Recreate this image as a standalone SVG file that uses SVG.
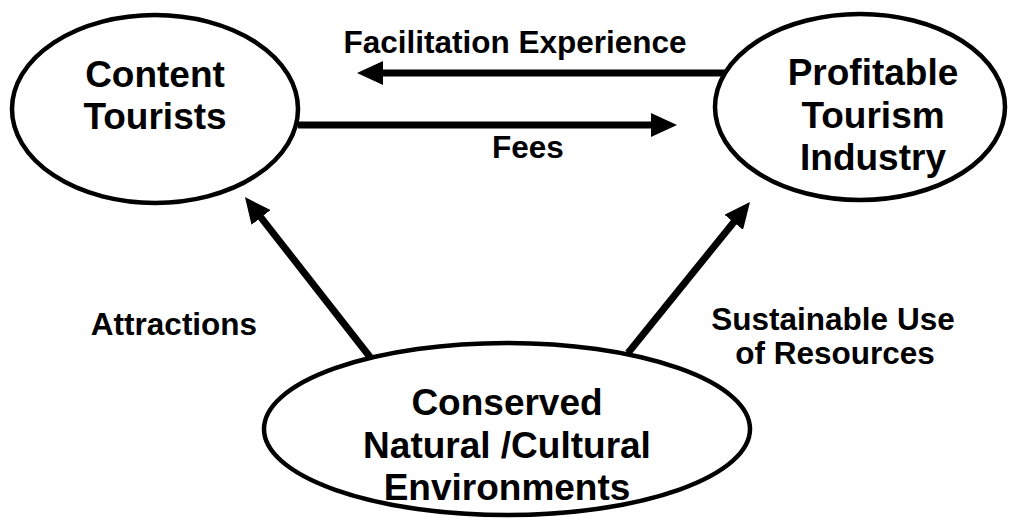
<svg xmlns="http://www.w3.org/2000/svg" width="1020" height="520" viewBox="0 0 1020 520">
<defs>
<style>
.node{fill:#fff;stroke:#000;stroke-width:4.5}
.conn{stroke:#000;stroke-width:7;fill:none;marker-end:url(#ah)}
.nt{font-family:"Liberation Sans",Arial,sans-serif;font-weight:bold;font-size:37px;text-anchor:middle;fill:#000}
.lt{font-family:"Liberation Sans",Arial,sans-serif;font-weight:bold;font-size:31.5px;text-anchor:middle;fill:#000}
</style>
<marker id="ah" viewBox="0 0 26 24" refX="11" refY="12" markerWidth="26" markerHeight="24" markerUnits="userSpaceOnUse" orient="auto">
<path d="M0,0 L26,12 L0,24 z" fill="#000"/>
</marker>
</defs>
<rect width="1020" height="520" fill="#fff"/>
<g id="connectors">
<line class="conn" x1="735" y1="73" x2="372" y2="73"/>
<line class="conn" x1="298" y1="125" x2="662" y2="125"/>
<line class="conn" x1="370" y1="357" x2="254.2" y2="208.8"/>
<line class="conn" x1="628" y1="353" x2="740.6" y2="213.7"/>
</g>
<g id="content-tourists">
<ellipse class="node" cx="155" cy="109" rx="143" ry="94"/>
<text class="nt" x="155" y="87">Content</text>
<text class="nt" x="155" y="129">Tourists</text>
</g>
<g id="profitable-industry">
<ellipse class="node" cx="860" cy="107" rx="145" ry="93"/>
<text class="nt" x="873" y="85">Profitable</text>
<text class="nt" x="873" y="128">Tourism</text>
<text class="nt" x="873" y="170">Industry</text>
</g>
<g id="conserved-environments">
<ellipse class="node" cx="507" cy="429" rx="243" ry="86"/>
<text class="nt" x="507" y="415">Conserved</text>
<text class="nt" x="507" y="458">Natural /Cultural</text>
<text class="nt" x="507" y="500">Environments</text>
</g>
<g id="labels">
<text class="lt" x="515" y="53">Facilitation Experience</text>
<text class="lt" x="528" y="158">Fees</text>
<text class="lt" x="174" y="335">Attractions</text>
<text class="lt" x="833" y="330">Sustainable Use</text>
<text class="lt" x="835" y="364">of Resources</text>
</g>
</svg>
